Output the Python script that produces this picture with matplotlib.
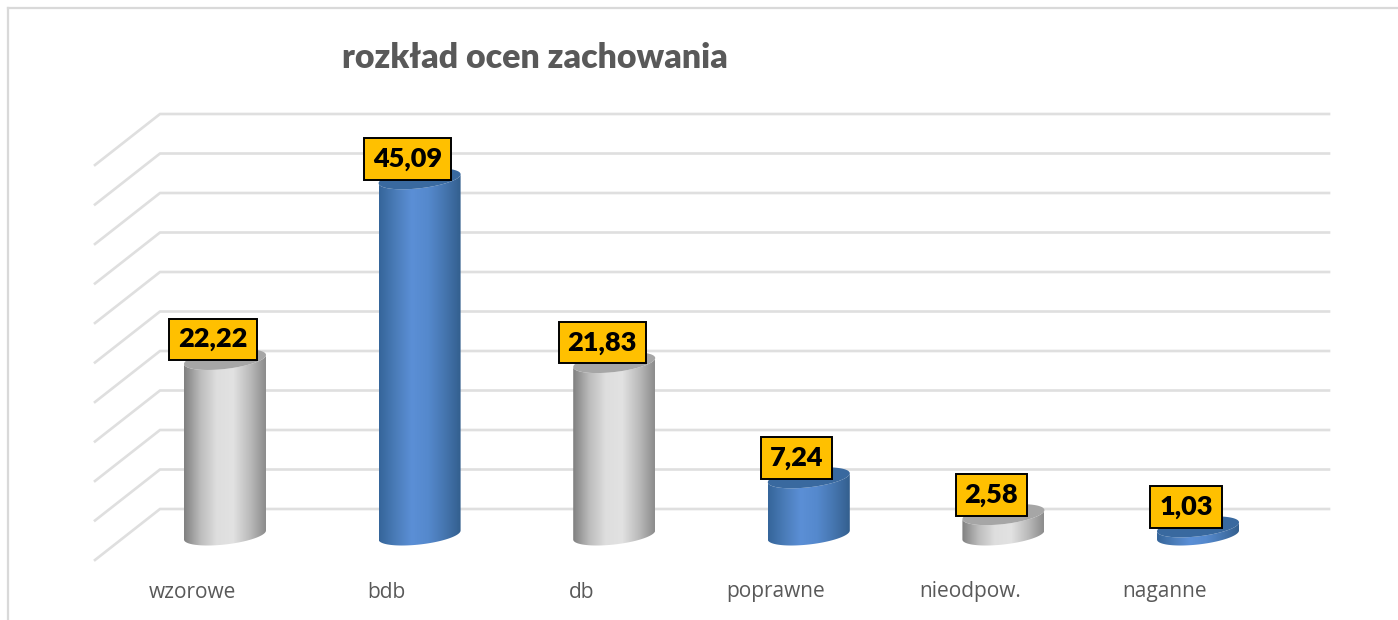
import numpy as np
import matplotlib
matplotlib.use('Agg')
import matplotlib.pyplot as plt
from matplotlib.colors import LinearSegmentedColormap
from matplotlib.lines import Line2D
from matplotlib.patches import Polygon

title = 'rozkład ocen zachowania'
categories = ['wzorowe', 'bdb', 'db', 'poprawne', 'nieodpow.', 'naganne']
values = [22.22, 45.09, 21.83, 7.24, 2.58, 1.03]
value_labels = ['22,22', '45,09', '21,83', '7,24', '2,58', '1,03']
grid_values = np.arange(0, 55, 5)

W, H = 1398, 620
x0, x_step = 225, 194.6   # pixel of first bar, pixels per category
y0, y_step = 535, 7.9     # pixel of value 0, pixels per unit


def px(x):
    return (x - x0) / x_step


def vy(y):
    return (y0 - y) / y_step


fig = plt.figure(figsize=(W / 100, H / 100), dpi=100)
ax = fig.add_axes([0, 0, 1, 1])
ax.axis('off')

# outer chart frame
fig.add_artist(Line2D([8 / W, 8 / W], [0, 1 - 8 / H], color='#d9d9d9', lw=1.6))
fig.add_artist(Line2D([8 / W, 1], [1 - 8 / H, 1 - 8 / H], color='#d9d9d9', lw=1.6))

# back wall and floor grid
wall = 26 / y_step
for g in grid_values:
    ax.plot([px(95), px(160), px(1329)], [g + wall - 51 / y_step, g + wall, g + wall],
            color='#dfdfdf', lw=1.9, zorder=1, solid_joinstyle='miter')

grey = LinearSegmentedColormap.from_list('g', ['#808080', '#bcbcbc', '#dedede', '#e2e2e2', '#bcbcbc', '#8c8c8c'])
blue = LinearSegmentedColormap.from_list('b', ['#35659a', '#4a7cb8', '#5b8fd6', '#5589cd', '#4676b0', '#335f8e'])
grad = np.linspace(0, 1, 256).reshape(1, -1)

a = 41 / x_step       # half width of cylinder
b = 9.5 / y_step      # half height of end ellipse
tilt = 4.5 / y_step   # right side sits higher than left
t = np.linspace(0, 2 * np.pi, 121)

for i, (v, lab) in enumerate(zip(values, value_labels)):
    is_blue = i % 2 == 1
    ex = i + a * np.cos(t)
    ey = b * np.sin(t) + tilt * np.cos(t)
    # body outline: lower half of the bottom ellipse, raised copy for the top
    bx = ex[60:121]
    by = ey[60:121]
    body = np.r_[np.c_[bx, by], np.c_[bx[::-1], by[::-1] + v]]
    patch = Polygon(body, closed=True, fc='none', ec='none', transform=ax.transData)
    ax.add_patch(patch)
    im = ax.imshow(grad, extent=[i - a, i + a, -b - tilt, v + b + tilt], aspect='auto',
                   cmap=blue if is_blue else grey, zorder=3, interpolation='bilinear')
    im.set_clip_path(patch)
    ax.fill(ex, ey + v, color='#39699f' if is_blue else '#a6a6a6', zorder=4, lw=0)
    ax.annotate(lab, (i, v), xytext=(-12, 20), textcoords='offset pixels',
                ha='center', va='center', fontsize=19.5, fontweight='heavy', family='Lato',
                color='black', zorder=6,
                bbox=dict(boxstyle='square,pad=0.33', fc='#ffc000', ec='black', lw=1.4))
    ax.text(i - 33 / x_step, vy(592), categories[i], ha='center', va='center',
            fontsize=15, family='Open Sans', color='#595959', zorder=6)

ax.set_xlim(px(0), px(W))
ax.set_ylim(vy(H), vy(0))

ax.text(px(535), vy(58), title, ha='center', va='center', fontsize=24.4,
        fontweight='heavy', family='Lato', color='#595959')

fig.savefig('out.png', dpi=100, facecolor='white')
